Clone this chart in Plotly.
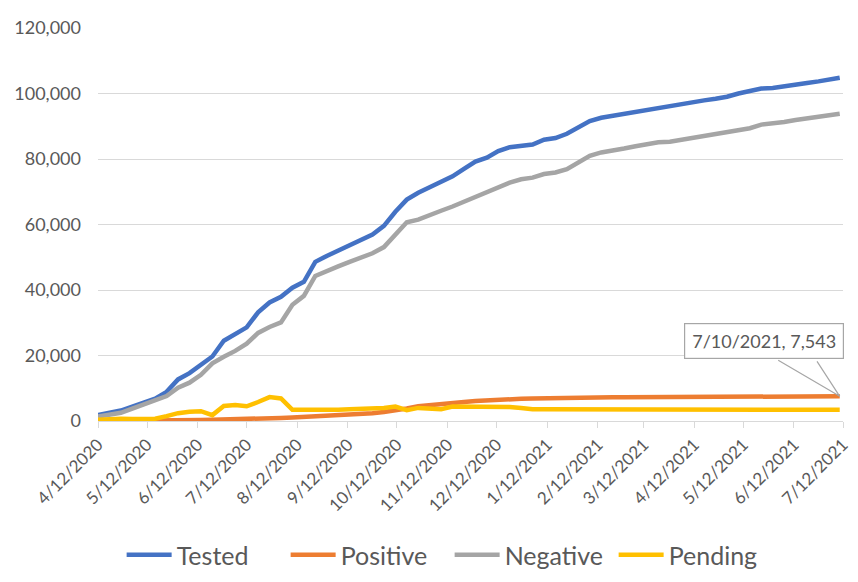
import pandas as pd
import plotly.graph_objects as go

# ---- data ----
dates = list(pd.date_range("2020-04-12", "2021-07-04", freq="7D").strftime("%Y-%m-%d")) + ["2021-07-10"]

tested = [1800, 2600, 3200, 4400, 5600, 6800, 8900, 12700, 14600, 17100,
          19700, 24500, 26600, 28600, 33200, 36200, 37900, 40700, 42500, 48600,
          50400, 52100, 53800, 55400, 56900, 59600, 63900, 67600, 69700, 71400,
          72900, 74700, 77000, 79200, 80400, 82400, 83600, 84100, 84400, 85900,
          86400, 87700, 89700, 91600, 92600, 93200, 93900, 94600, 95200, 95700,
          96100, 96800, 97400, 97900, 98400, 99000, 100000, 100900, 101500, 101700,
          102300, 102800, 103200, 103700, 104200, 104800]

positive = [0, 0, 0, 0, 0, 0, 100, 200, 250, 300,
            350, 400, 450, 550, 650, 800, 950, 1100, 1250, 1400,
            1550, 1700, 1850, 2050, 2350, 2750, 3200, 3800, 4500, 4900,
            5200, 5500, 5800, 6100, 6350, 6550, 6700, 6800, 6850, 6950,
            7000, 7050, 7100, 7150, 7200, 7230, 7260, 7280, 7300, 7320,
            7340, 7360, 7380, 7390, 7400, 7420, 7430, 7450, 7460, 7470,
            7480, 7490, 7500, 7510, 7520, 7543]

negative = [1400, 2000, 2500, 3800, 5000, 6100, 7600, 10200, 11700, 14100,
            17600, 19600, 21400, 23600, 26900, 28700, 30100, 35500, 38200, 44300,
            45900, 47200, 48600, 50000, 51200, 53100, 56700, 60700, 61500, 62700,
            64200, 65500, 66900, 68600, 69800, 71400, 72800, 73800, 74300, 75400,
            75900, 76900, 79000, 81000, 82000, 82500, 83200, 83900, 84500, 85100,
            85300, 85900, 86400, 87000, 87400, 88000, 88700, 89400, 90500, 90800,
            91300, 91900, 92400, 92800, 93400, 93800]

pending = [400, 600, 700, 600, 600, 700, 1500, 2400, 2800, 3000,
           1800, 4600, 4900, 4500, 5800, 7300, 6900, 3400, 3400, 3300,
           3400, 3400, 3600, 3700, 3800, 4000, 4400, 3300, 4000, 3800,
           3600, 4400, 4400, 4400, 4400, 4400, 4300, 4000, 3600, 3600,
           3600, 3500, 3500, 3400, 3400, 3700, 3400, 3400, 3500, 3500,
           3500, 3500, 3500, 3500, 3600, 3600, 3700, 3600, 3500, 3500,
           3400, 3400, 3400, 3400, 3400, 3400]

tick_dates = ["2020-04-12", "2020-05-12", "2020-06-12", "2020-07-12", "2020-08-12",
              "2020-09-12", "2020-10-12", "2020-11-12", "2020-12-12", "2021-01-12",
              "2021-02-12", "2021-03-12", "2021-04-12", "2021-05-12", "2021-06-12",
              "2021-07-12"]
tick_labels = ["4/12/2020", "5/12/2020", "6/12/2020", "7/12/2020", "8/12/2020",
               "9/12/2020", "10/12/2020", "11/12/2020", "12/12/2020", "1/12/2021",
               "2/12/2021", "3/12/2021", "4/12/2021", "5/12/2021", "6/12/2021",
               "7/12/2021"]

series_names = ["Tested", "Positive", "Negative", "Pending"]
series_values = [tested, positive, negative, pending]
colors = ["#4472C4", "#ED7D31", "#A5A5A5", "#FFC000"]

label_date = "2021-07-10"
label_value = 7543
label_text = "7/10/2021, 7,543"

FONT = "Lato, 'Open Sans', sans-serif"
TXT = "#595959"

fig = go.Figure()
for name, vals, col in zip(series_names, series_values, colors):
    fig.add_trace(go.Scatter(x=dates, y=vals, name=name, mode="lines",
                             line=dict(color=col, width=4.5)))

# callout wedge lines
for ax in (-63, -24):
    fig.add_annotation(x=label_date, y=label_value, xref="x", yref="y",
                       text=" ", font=dict(size=1), showarrow=True, arrowhead=0,
                       arrowwidth=1.2, arrowcolor="#A6A6A6", ax=ax, ay=-37,
                       startstandoff=0, standoff=0)
# callout box
fig.add_annotation(x=label_date, y=label_value, xref="x", yref="y",
                   text=label_text, showarrow=False, xshift=-76, yshift=55,
                   font=dict(family=FONT, size=18, color=TXT),
                   bgcolor="white", bordercolor="#A6A6A6", borderwidth=1.2,
                   borderpad=5, width=148, height=24)

# the page body adds an 8px offset, so the figure is 8px smaller than the window
fig.update_layout(
    width=850, height=574,
    margin=dict(l=90, r=15, t=20, b=161, autoexpand=False),
    paper_bgcolor="white", plot_bgcolor="white",
    font=dict(family=FONT, color=TXT),
    showlegend=True,
    legend=dict(orientation="h", x=0.472, xanchor="center", y=-0.341, yanchor="middle",
                font=dict(family=FONT, size=25, color=TXT), itemwidth=45,
                entrywidth=104, entrywidthmode="pixels",
                traceorder="normal"),
    xaxis=dict(type="date", range=["2020-04-12", "2021-07-12"],
               tickvals=tick_dates, ticktext=tick_labels, tickangle=-45,
               tickfont=dict(family=FONT, size=17, color=TXT), automargin=False,
               showgrid=False, showline=True, linecolor="#D9D9D9", linewidth=1,
               ticks="outside", ticklen=6, tickcolor="#D9D9D9", zeroline=False),
    yaxis=dict(range=[0, 120000], tickvals=[0, 20000, 40000, 60000, 80000, 100000, 120000],
               tickformat=",", tickfont=dict(family=FONT, size=18, color=TXT),
               automargin=False,
               showgrid=True, gridcolor="#D9D9D9", gridwidth=1, zeroline=False,
               showline=False, ticks="", ticklabelstandoff=16),
)

fig.write_html("out.html")
